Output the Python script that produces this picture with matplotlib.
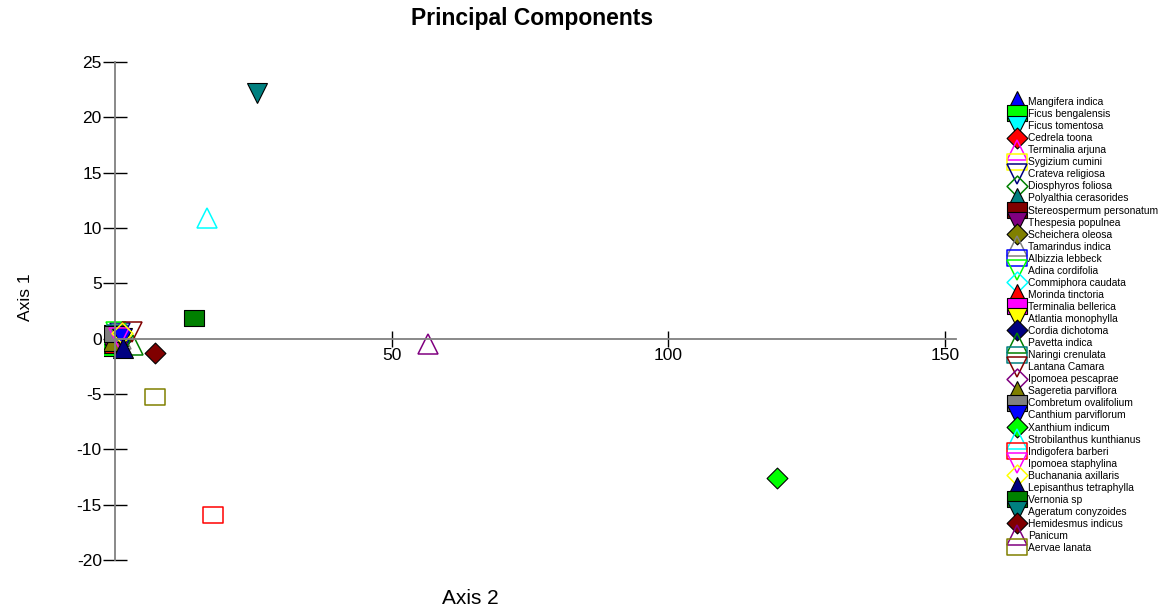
import matplotlib
matplotlib.use("Agg")
import matplotlib.pyplot as plt
from matplotlib.path import Path

plt.rcParams["font.family"] = ["Liberation Sans", "DejaVu Sans"]
plt.rcParams["axes.unicode_minus"] = False

# species scores on the first two principal axes
species = [
    "Mangifera indica", "Ficus bengalensis", "Ficus tomentosa", "Cedrela toona",
    "Terminalia arjuna", "Sygizium cumini", "Crateva religiosa", "Diosphyros foliosa",
    "Polyalthia cerasorides", "Stereospermum personatum", "Thespesia populnea",
    "Scheichera oleosa", "Tamarindus indica", "Albizzia lebbeck", "Adina cordifolia",
    "Commiphora caudata", "Morinda tinctoria", "Terminalia bellerica",
    "Atlantia monophylla", "Cordia dichotoma", "Pavetta indica", "Naringi crenulata",
    "Lantana Camara", "Ipomoea pescaprae", "Sageretia parviflora",
    "Combretum ovalifolium", "Canthium parviflorum", "Xanthium indicum",
    "Strobilanthus kunthianus", "Indigofera barberi", "Ipomoea staphylina",
    "Buchanania axillaris", "Lepisanthus tetraphylla", "Vernonia sp",
    "Ageratum conyzoides", "Hemidesmus indicus", "Panicum", "Aervae lanata",
]
axis2 = [
    0.5, -0.3, 0.3, -0.2, 0.8, 0.6, 0.9, 0.2, 0.0, 0.2, 0.4, 0.0, 1.0,
    0.3, 0.1, 0.5, -0.2, 0.0, -0.4, 0.9, 3.2, 0.4, 3.0, 0.2, -0.3, -0.2,
    1.2, 119.7, 16.6, 17.7, 0.8, 1.3, 1.4, 14.3, 25.6, 7.2, 56.5, 7.3,
]
axis1 = [
    0.2, -0.8, 0.3, 0.0, 0.4, 0.3, 0.5, -0.6, -0.3, 0.1, 0.2, -0.5, 0.0,
    -0.2, 0.6, 0.1, -0.4, 0.2, 0.3, -0.2, -0.6, 0.5, 0.6, -0.4, -0.2, 0.4,
    0.1, -12.6, 10.9, -15.9, 0.1, 0.5, -0.8, 1.9, 22.2, -1.3, -0.5, -5.3,
]
y_ticks = [-20, -15, -10, -5, 0, 5, 10, 15, 20, 25]
x_ticks = [50, 100, 150]

colour_cycle = ["#0000FF", "#00FF00", "#00FFFF", "#FF0000", "#FF00FF", "#FFFF00",
                "#000080", "#008000", "#008080", "#800000", "#800080", "#808000",
                "#808080"]

box = Path([(-1, -0.85), (1, -0.85), (1, 0.85), (-1, 0.85), (-1, -0.85)], closed=True)
diamond = Path([(0, 1), (1, 0), (0, -1), (-1, 0), (0, 1)], closed=True)
shape_cycle = ["^", box, "v", diamond]
size_cycle = [14, 14, 14, 15]

fig = plt.figure(figsize=(11.64, 6.11), dpi=100)
ax = fig.add_axes([0.0893, 0.0835, 0.7320, 0.8150])

handles = []
for i, name in enumerate(species):
    colour = colour_cycle[i % len(colour_cycle)]
    filled = (i // 4) % 2 == 0
    h, = ax.plot(axis2[i], axis1[i], linestyle="none",
                 marker=shape_cycle[i % 4], markersize=size_cycle[i % 4],
                 markerfacecolor=colour if filled else "none",
                 markeredgecolor="black" if filled else colour,
                 markeredgewidth=0.8 if filled else 1.1, label=name)
    handles.append(h)

ax.set_xlim(-2, 152)
ax.set_ylim(-20, 25)
ax.spines["top"].set_visible(False)
ax.spines["right"].set_visible(False)
ax.spines["left"].set_position(("data", 0))
ax.spines["bottom"].set_position(("data", 0))
ax.spines["bottom"].set_bounds(0, 152)
for s in ("left", "bottom"):
    ax.spines[s].set_color("#808080")
    ax.spines[s].set_linewidth(1.3)

ax.set_yticks(y_ticks)
ax.set_xticks(x_ticks)
ax.tick_params(axis="y", direction="inout", length=17, width=1, color="black",
               labelsize=12.5, pad=1)
ax.tick_params(axis="x", direction="inout", length=11, width=1, color="black",
               labelsize=12.5, pad=1)

ax.set_xlabel("Axis 2", fontsize=15)
ax.xaxis.set_label_coords(0.43, -0.058)
ax.set_ylabel("Axis 1", fontsize=12.5)
ax.yaxis.set_label_coords(-0.083, 0.527)
fig.text(532 / 1164, 1 - 18 / 611, "Principal Components", fontsize=16.5,
         fontweight="bold", ha="center", va="center")

fig.legend(handles=handles, loc="upper left", bbox_to_anchor=(0.8694, 0.8412),
           frameon=False, fontsize=7.4, numpoints=1, handlelength=1.0,
           handletextpad=0.6, labelspacing=0.20, borderpad=0, borderaxespad=0)

fig.savefig("out.png", dpi=100)
